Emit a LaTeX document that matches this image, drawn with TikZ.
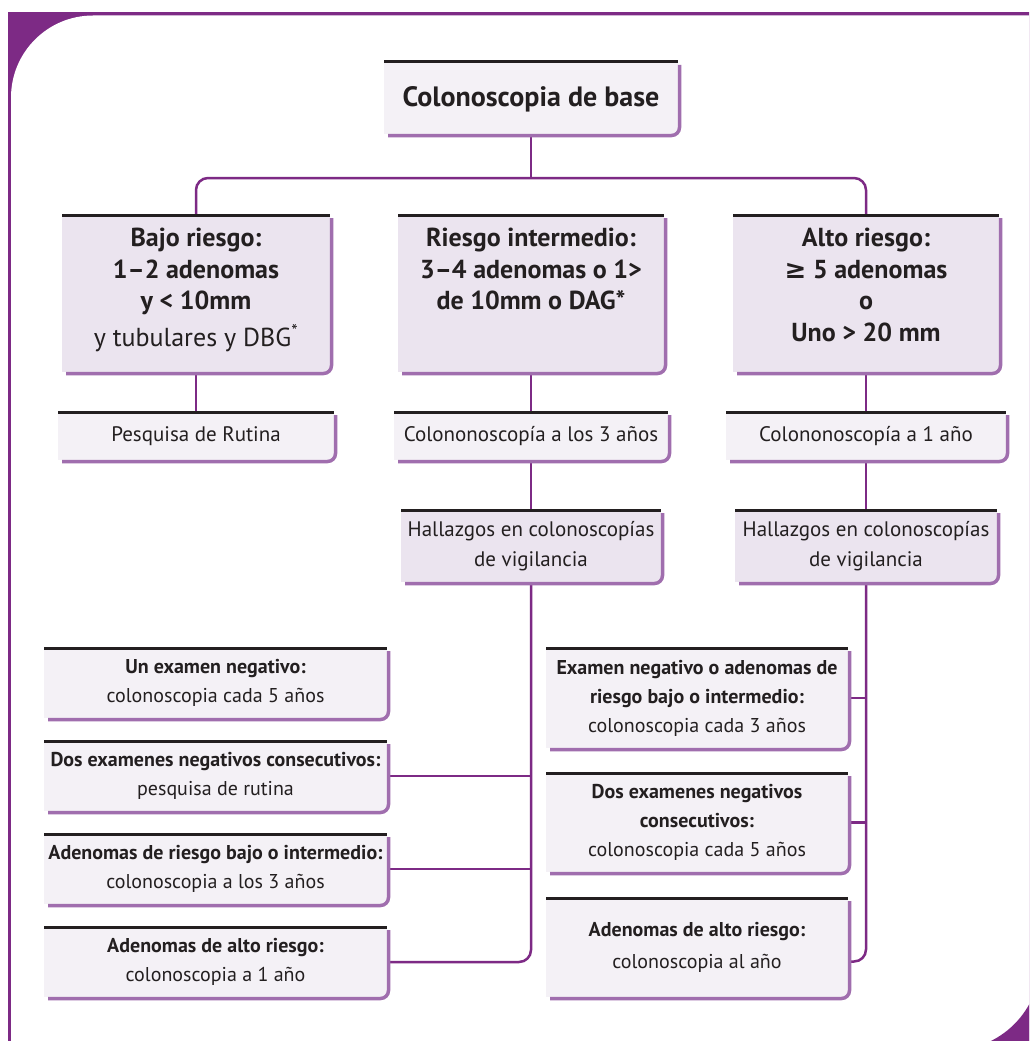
\documentclass[tikz,border=0pt]{standalone}
\usepackage{fontspec}
\setmainfont{PT Sans}
\newfontfamily\symfont{DejaVu Sans}
\definecolor{ink}{HTML}{231F20}
\definecolor{plum}{HTML}{7D2A85}
\definecolor{lilac}{HTML}{A06EAE}
\definecolor{headfill}{HTML}{EBE4EF}
\definecolor{cardfill}{HTML}{F4F1F6}
\begin{document}
\begin{tikzpicture}[x=1pt,y=-1pt,
  box/.style={rectangle, inner sep=0pt, outer sep=0pt, anchor=north west, align=center, text=ink},
  headbox/.style={box, fill=headfill},
  cardbox/.style={box, fill=cardfill},
  ttlfont/.style={font=\fontsize{28}{32}\selectfont\bfseries},
  hdtxt/.style={anchor=north, align=center, text=ink, inner sep=0pt, font=\fontsize{26}{31.5}\selectfont\bfseries},
  cardtxt/.style={font=\fontsize{21}{30}\selectfont},
  lowtxt/.style={font=\fontsize{20}{29}\selectfont},
  topline/.style={draw=ink, line width=3pt},
  edgeline/.style={draw=lilac, line width=3.5pt, rounded corners=8pt},
  conn/.style={draw=plum, line width=2.5pt, rounded corners=12pt},
]
\useasboundingbox (0,0) rectangle (1029,1041);

% page frame with rounded corners
\begin{scope}
  \clip (0,0) rectangle (1029,1041);
  \fill[plum] (8,12.5) rectangle (1100,1100);
  \fill[white, rounded corners=82pt] (11,15.5) rectangle (1200,1200);
  \fill[plum] (1040,962) arc[start angle=0, end angle=90, radius=88] -- (1040,1052) -- cycle;
\end{scope}

% boxes
\node[cardbox, ttlfont, minimum width=294pt, minimum height=72pt, text depth=2pt] (top) at (384,62) {Colonoscopia de base};

\node[headbox, minimum width=268pt, minimum height=157pt] (bajo) at (62,215) {};
\node[headbox, minimum width=266pt, minimum height=157pt] (inter) at (398,215) {};
\node[headbox, minimum width=266pt, minimum height=157pt] (alto) at (733,215) {};

\node[hdtxt] (bajotxt) at ([yshift=-13pt]bajo.north) {Bajo riesgo:\\1–2 adenomas\\y < 10mm\\[5pt]{\mdseries y tubulares y DBG\textsuperscript{*}}};
\node[hdtxt] (intertxt) at ([yshift=-13pt]inter.north) {Riesgo intermedio:\\3–4 adenomas o 1>\\de 10mm o DAG*};
\node[hdtxt] (altotxt) at ([yshift=-13pt]alto.north) {Alto riesgo:\\{\symfont ≥} 5 adenomas\\o\\Uno > 20 mm};

\node[cardbox, cardtxt, minimum width=276pt, minimum height=48pt] (rutina) at (58,412) {Pesquisa de Rutina};
\node[cardbox, cardtxt, minimum width=274pt, minimum height=48pt] (c3) at (394,412) {Colononoscopía a los 3 años};
\node[cardbox, cardtxt, minimum width=280pt, minimum height=48pt] (c1) at (726,412) {Colononoscopía a 1 año};

\node[headbox, cardtxt, minimum width=260pt, minimum height=72pt] (hall1) at (401,510) {Hallazgos en colonoscopías\\de vigilancia};
\node[headbox, cardtxt, minimum width=262pt, minimum height=72pt] (hall2) at (735,510) {Hallazgos en colonoscopías\\de vigilancia};

\node[cardbox, lowtxt, minimum width=343pt, minimum height=70pt] (L1) at (44,648) {{\bfseries Un examen negativo:}\\colonoscopia cada 5 años};
\node[cardbox, lowtxt, minimum width=343pt, minimum height=70pt] (L2) at (44,741) {{\bfseries Dos examenes negativos consecutivos:}\\pesquisa de rutina};
\node[cardbox, lowtxt, minimum width=343pt, minimum height=70pt] (L3) at (44,834) {{\bfseries Adenomas de riesgo bajo o intermedio:}\\colonoscopia a los 3 años};
\node[cardbox, lowtxt, minimum width=343pt, minimum height=70pt] (L4) at (44,927) {{\bfseries Adenomas de alto riesgo:}\\colonoscopia a 1 año};

\node[cardbox, lowtxt, minimum width=302pt, minimum height=100pt] (R1) at (546,648) {{\bfseries Examen negativo o adenomas de}\\{\bfseries riesgo bajo o intermedio:}\\colonoscopia cada 3 años};
\node[cardbox, lowtxt, minimum width=302pt, minimum height=99pt] (R2) at (546,773) {{\bfseries Dos examenes negativos}\\{\bfseries consecutivos:}\\colonoscopia cada 5 años};
\node[cardbox, lowtxt, minimum width=302pt, minimum height=99pt] (R3) at (546,898) {{\bfseries Adenomas de alto riesgo:}\\[3pt]colonoscopia al año};

% connectors
\coordinate (bar) at (531,178);
\draw[conn] (top.south) -- (top.south |- bar);
\draw[conn] (bajo.north) |- (bar) -| (alto.north);
\draw[conn] (bajo.south) -- (rutina.north);
\draw[conn] (inter.south) -- (c3.north);
\draw[conn] (alto.south) -- (c1.north);
\draw[conn] (c3.south) -- (hall1.north);
\draw[conn] (c1.south) -- (hall2.north);

\draw[conn] (hall1.south) |- (L4.east);
\draw[conn] (L2.east) -- (L2.east -| hall1.south);
\draw[conn] (L3.east) -- (L3.east -| hall1.south);

\draw[conn] (hall2.south) |- ([yshift=-14pt]R3.east);
\draw[conn] (R1.east) -- (R1.east -| hall2.south);
\draw[conn] (R2.east) -- (R2.east -| hall2.south);

% card edges: dark rule on top, shaded edge right and below
\foreach \b in {top,bajo,inter,alto,rutina,c3,c1,hall1,hall2,L1,L2,L3,L4,R1,R2,R3}{
  \draw[topline] (\b.north west) -- (\b.north east);
  \draw[edgeline] ([xshift=1.5pt,yshift=-3pt]\b.north east) -- ([xshift=1.5pt,yshift=-1.5pt]\b.south east) -- ([xshift=4pt,yshift=-1.5pt]\b.south west);
}
\end{tikzpicture}
\end{document}
